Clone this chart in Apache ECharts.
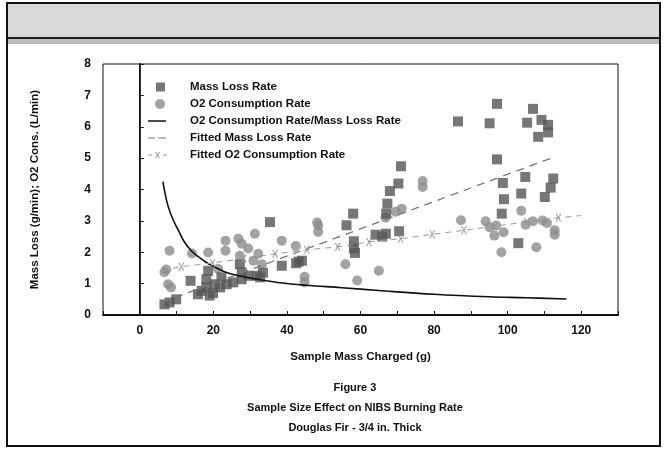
<!DOCTYPE html>
<html>
<head>
<meta charset="utf-8">
<script src="https://cdn.jsdelivr.net/npm/echarts@6/dist/echarts.min.js"></script>
<style>html,body{margin:0;padding:0;background:#fff;}#c{width:664px;height:451px;}</style>
</head>
<body>
<div id="c"></div>
<script>
// ---- data ----
const massX = [6.7, 8.1, 9.9, 13.8, 15.8, 16.8, 18.1, 18.1, 18.6, 19.0, 19.9, 20.4, 21.8, 22.2, 23.6, 25.4, 27.2, 27.7, 27.7, 29.5, 31.8, 32.7, 33.5, 35.4, 38.6, 42.5, 43.2, 44.1,
  56.2, 58.0, 58.2, 58.2, 58.5, 64.1, 65.9, 66.9, 67.0, 67.3, 68.0, 70.3, 71.0, 70.5, 86.5,
  97.1, 95.1, 106.9, 105.3, 109.2, 111.0, 111.0, 108.3, 97.1, 98.7, 104.8, 112.4, 111.7, 110.1, 103.7, 99.0, 98.4, 102.9];
const massY = [0.34, 0.40, 0.50, 1.09, 0.66, 0.77, 0.88, 1.14, 1.41, 0.62, 0.70, 0.98, 0.88, 1.20, 0.98, 1.04, 1.62, 1.36, 1.14, 1.25, 1.25, 1.20, 1.35, 2.96, 1.57, 1.65, 1.70, 1.73,
  2.86, 3.23, 2.35, 2.12, 1.98, 2.56, 2.50, 2.59, 3.23, 3.55, 3.95, 4.19, 4.74, 2.67, 6.17,
  6.73, 6.11, 6.57, 6.13, 6.22, 6.06, 5.82, 5.68, 4.96, 4.21, 4.40, 4.35, 4.06, 3.76, 3.87, 3.69, 3.23, 2.29];
const o2X = [6.7, 7.2, 7.7, 8.5, 8.1, 14.2, 18.6, 21.3, 23.3, 23.3, 26.8, 27.2, 27.7, 29.5, 31.3, 30.9, 32.2, 33.2, 38.6, 42.4, 44.8, 44.8, 48.5, 48.5, 48.2, 55.9, 59.1, 65.0, 66.8, 69.6, 71.2, 76.9, 76.9,
  87.3, 94.0, 95.1, 96.9, 96.4, 98.9, 98.3, 103.7, 104.9, 106.9, 109.5, 110.7, 112.8, 112.8, 107.8];
const o2Y = [1.36, 1.45, 0.98, 0.88, 2.05, 1.96, 1.99, 1.47, 2.37, 2.05, 2.43, 1.89, 2.27, 2.12, 2.59, 1.73, 1.95, 1.62, 2.37, 2.20, 1.22, 1.04, 2.85, 2.65, 2.95, 1.62, 1.10, 1.41, 3.10, 3.29, 3.39, 4.27, 4.08,
  3.02, 2.99, 2.80, 2.85, 2.53, 2.64, 2.00, 3.32, 2.88, 2.99, 3.01, 2.93, 2.56, 2.70, 2.16];
const ratioX = [6.3, 7.5, 9, 10.5, 12, 14, 16, 18, 20, 23, 27, 32, 38, 45, 55, 65, 80, 95, 105, 116];
const ratioY = [4.25, 3.55, 3.05, 2.7, 2.35, 2.05, 1.85, 1.68, 1.55, 1.38, 1.25, 1.14, 1.03, 0.95, 0.87, 0.78, 0.66, 0.58, 0.55, 0.51];
const fitMassX = [6, 113];
const fitMassY = [0.4, 5.05];
const fitO2X = [6, 11.3, 19.8, 28.3, 36.8, 45.4, 53.8, 62.3, 70.9, 79.5, 88.1, 96.6, 105.2, 113.8, 120];
const fitO2Y = [1.42, 1.54, 1.66, 1.80, 1.95, 2.08, 2.17, 2.33, 2.43, 2.57, 2.70, 2.83, 2.97, 3.10, 3.17];
const xTickLabels = [0, 20, 40, 60, 80, 100, 120];
const seriesNames = ['Mass Loss Rate', 'O2 Consumption Rate', 'O2 Consumption Rate/Mass Loss Rate', 'Fitted Mass Loss Rate', 'Fitted O2 Consumption Rate'];
const captionLines = ['Figure 3', 'Sample Size Effect on NIBS Burning Rate', 'Douglas Fir - 3/4 in. Thick'];

const zip = (a, b) => a.map((v, i) => [v, b[i]]);
const FONT = '"Liberation Sans", Arial, sans-serif';
const XPATH = 'path://M0,0 L2,0 L5,4 L8,0 L10,0 L6,5 L10,10 L8,10 L5,6 L2,10 L0,10 L4,5 Z';
// legend icons (invisible zero-area corners fix the bounding box at 24x10)
const BOX0 = 'M0,0L0.01,0Z', BOX1 = 'M24,10L23.99,10Z';
const ICON_SQ = 'path://' + BOX0 + 'M8,0.5H17V9.5H8Z' + BOX1;
const ICON_SOLID = 'path://' + BOX0 + 'M0,4.2H18V5.8H0Z' + BOX1;
const ICON_DASH = 'path://' + BOX0 + 'M0,4.4H7V5.6H0ZM10,4.4H18V5.6H10Z' + BOX1;
const ICON_DX = 'path://' + BOX0 + 'M0,4.5H4V5.5H0ZM7,2L8.2,2L9.5,4.3L10.8,2L12,2L10.2,5L12,8L10.8,8L9.5,5.7L8.2,8L7,8L8.8,5ZM15,4.5H19V5.5H15Z' + BOX1;

const chart = echarts.init(document.getElementById('c'), null, {renderer: 'canvas'});
chart.setOption({
  animation: false,
  backgroundColor: '#fff',
  textStyle: {fontFamily: FONT},
  graphic: [
    {type: 'rect', z: -10, shape: {x: 7, y: 3, width: 653, height: 443}, style: {fill: '#fff', stroke: '#111', lineWidth: 2}},
    {type: 'rect', z: -9, shape: {x: 8, y: 4, width: 651, height: 34}, style: {fill: '#d9d9d9'}},
    {type: 'rect', z: -9, shape: {x: 8, y: 39, width: 651, height: 5}, style: {fill: '#bdbdbd'}},
    {type: 'line', z: -8, shape: {x1: 8, y1: 38, x2: 659, y2: 38}, style: {stroke: '#222', lineWidth: 2}}
  ].concat(captionLines.map((t, i) => ({
    type: 'text', x: 355, y: 388 + i * 20,
    style: {text: t, font: 'bold 11px ' + FONT, fill: '#111', textAlign: 'center', textVerticalAlign: 'middle'}
  }))),
  legend: {
    orient: 'vertical', left: 143, top: 76, itemGap: 5, itemWidth: 24, itemHeight: 10,
    textStyle: {fontFamily: FONT, fontWeight: 'bold', fontSize: 11.5, color: '#111', padding: [0, 0, 0, 13]},
    data: [
      {name: seriesNames[0], icon: ICON_SQ},
      {name: seriesNames[1], icon: 'circle'},
      {name: seriesNames[2], icon: ICON_SOLID},
      {name: seriesNames[3], icon: ICON_DASH},
      {name: seriesNames[4], icon: ICON_DX}
    ]
  },
  grid: {left: 103, right: 46, top: 64, bottom: 136, show: true, borderColor: '#111', borderWidth: 1, backgroundColor: 'transparent'},
  xAxis: {
    type: 'value', min: -10, max: 130, interval: 10,
    name: 'Sample Mass Charged (g)', nameLocation: 'middle', nameGap: 36,
    nameTextStyle: {fontFamily: FONT, fontWeight: 'bold', fontSize: 11.5, color: '#111'},
    axisLine: {show: true, onZero: false, lineStyle: {color: '#111', width: 2}},
    axisTick: {show: true, inside: true, length: 4, lineStyle: {color: '#111'}},
    splitLine: {show: false},
    axisLabel: {margin: 10, fontFamily: FONT, fontWeight: 'bold', fontSize: 12, color: '#111',
      formatter: v => xTickLabels.indexOf(v) >= 0 ? String(v) : ''}
  },
  yAxis: {
    type: 'value', min: 0, max: 8, interval: 1,
    name: 'Mass Loss (g/min); O2 Cons. (L/min)', nameLocation: 'middle', nameGap: 62,
    nameTextStyle: {fontFamily: FONT, fontWeight: 'bold', fontSize: 11.5, color: '#111'},
    axisLine: {show: true, lineStyle: {color: '#111', width: 2}},
    axisTick: {show: true, inside: true, length: 4, lineStyle: {color: '#111'}},
    splitLine: {show: false},
    axisLabel: {margin: 12, fontFamily: FONT, fontWeight: 'bold', fontSize: 12, color: '#111'}
  },
  series: [
    {name: seriesNames[0], type: 'scatter', symbol: 'rect', symbolSize: 10, z: 3,
      itemStyle: {color: '#555'}, data: zip(massX, massY),
      markLine: {silent: true, symbol: 'none', label: {show: false},
        lineStyle: {color: '#333', width: 1, type: 'solid'}, data: [{xAxis: 0}]}},
    {name: seriesNames[1], type: 'scatter', symbol: 'circle', symbolSize: 10, z: 2,
      itemStyle: {color: '#8c8c8c'}, data: zip(o2X, o2Y)},
    {name: seriesNames[2], type: 'line', symbol: 'none', smooth: 0.4, z: 4,
      lineStyle: {color: '#111', width: 1.6}, itemStyle: {color: '#111'}, data: zip(ratioX, ratioY)},
    {name: seriesNames[3], type: 'line', symbol: 'none', z: 4,
      lineStyle: {color: '#777', width: 1.3, type: [8, 6]}, itemStyle: {color: '#777'}, data: zip(fitMassX, fitMassY)},
    {name: seriesNames[4], type: 'line', symbol: XPATH, symbolSize: [6, 8], z: 4,
      lineStyle: {color: '#999', width: 1, type: [6, 5]}, itemStyle: {color: '#999'},
      data: zip(fitO2X, fitO2Y).map((p, i) => (i === 0 || i === fitO2X.length - 1) ? {value: p, symbol: 'none'} : p)}
  ]
});
</script>
</body>
</html>
